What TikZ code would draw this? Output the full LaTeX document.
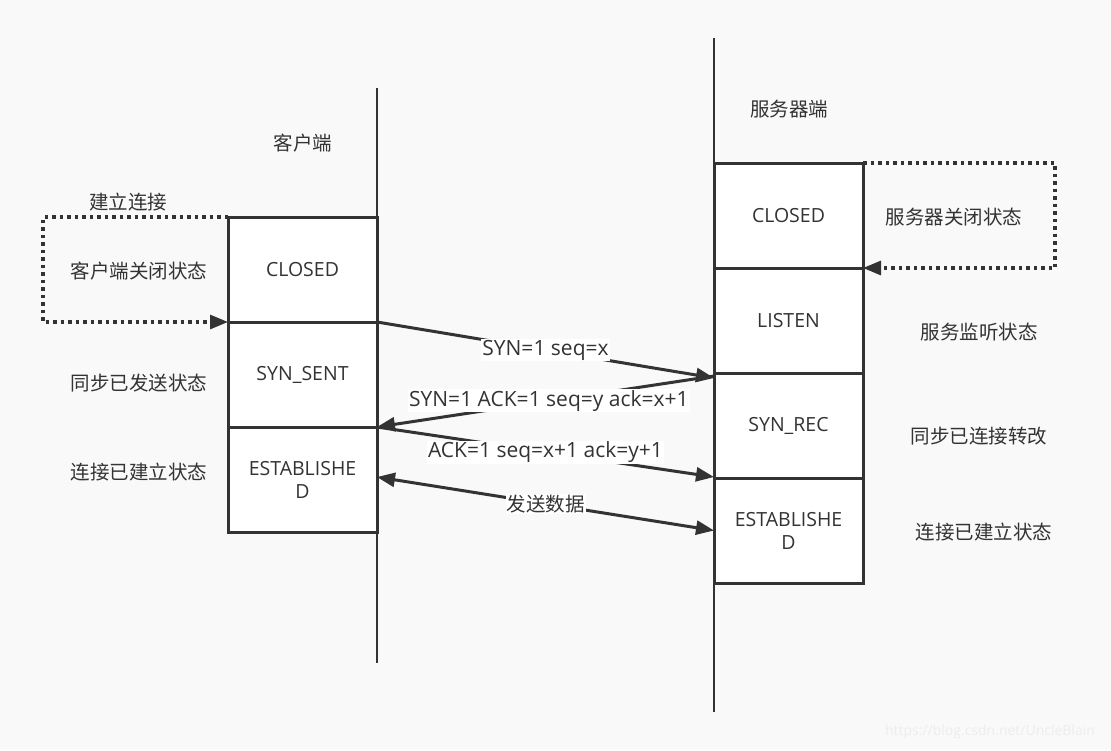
\documentclass[tikz,border=0pt]{standalone}
\usepackage{fontspec}
\setmainfont{Open Sans}
\newfontfamily\cjk{Noto Sans CJK SC}
\usetikzlibrary{positioning}
\usetikzlibrary{arrows.meta}
\usetikzlibrary{backgrounds}
\definecolor{ink}{HTML}{333333}
\definecolor{paper}{HTML}{F9F9F9}
\tikzset{state/.style={rectangle,draw=ink,fill=white,line width=3pt,inner sep=0pt,outer sep=0pt,
minimum width=149pt, minimum height=105pt, align=center, text=ink,
font=\fontsize{19.5}{23}\selectfont},
note/.style={text=ink, inner sep=0pt, font=\fontsize{19.5}{23}\selectfont\cjk},
msg/.style={text=ink, fill=white, inner sep=1pt, font=\fontsize{21}{23}\selectfont},
life/.style={draw=ink, line width=2.6pt},
loop/.style={draw=ink, line width=3.2pt, dash pattern=on 3.5pt off 4pt},
-/.style={draw=ink, line width=3pt},
>={Triangle[length=18pt,width=14pt]}}

\begin{document}
\begin{tikzpicture}[x=1pt,y=-1pt]
  \useasboundingbox [fill=paper] (0,0) rectangle (1111,750);

  \coordinate (ctop) at (377,88);
  \coordinate (cbot) at (377,663);
  \coordinate (stop) at (714,38);
  \coordinate (sbot) at (714,712);
  \draw [life] (ctop) -- (cbot);
  \draw [life] (stop) -- (sbot);

  \node (cclosed) [state] at (302.5,269.5) {CLOSED};
  \node (csent) [state, below=0pt of cclosed] {SYN\_SENT};
  \node (cest) [state, below=0pt of csent] {ESTABLISHE\\D};

  \node (sclosed) [state] at (788.5,215.5) {CLOSED};
  \node (slisten) [state, below=0pt of sclosed] {LISTEN};
  \node (srec) [state, below=0pt of slisten] {SYN\_REC};
  \node (sest) [state, below=0pt of srec] {ESTABLISHE\\D};

  \node (client) [note] at (303,143) {客户端};
  \node (server) [note] at (789,109) {服务器端};
  \node (connect) [note] at (128,202) {建立连接};
  \node (cclosedn) [note] at (139,271) {客户端关闭状态};
  \node (csentn) [note] at (139,383) {同步已发送状态};
  \node (cestn) [note] at (139,472) {连接已建立状态};
  \node (sclosedn) [note] at (954,217) {服务器关闭状态};
  \node (slistenn) [note] at (979,332) {服务监听状态};
  \node (srecn) [note] at (979,436) {同步已连接转改};
  \node (sestn) [note] at (984,532) {连接已建立状态};

  \coordinate (cl1) at (43,217);
  \coordinate (cl2) at (43,322);
  \draw [loop] (cclosed.north west) -- (cl1) -- (cl2) -- ([xshift=-16pt]cclosed.south west);
  \draw [-, ->] ([xshift=-18pt]cclosed.south west) -- (cclosed.south west);

  \coordinate (sl1) at (1055,163);
  \coordinate (sl2) at (1055,268);
  \draw [loop] (sclosed.north east) -- (sl1) -- (sl2) -- ([xshift=16pt]sclosed.south east);
  \draw [-, ->] ([xshift=18pt]sclosed.south east) -- (sclosed.south east);

  \draw [-, ->] (cclosed.south east) -- ([yshift=-5pt]slisten.south west)
    node [msg, midway] {SYN=1 seq=x};
  \draw [-, ->] ([yshift=-3pt]slisten.south west) -- (csent.south east)
    node [msg, pos=0.49] {SYN=1 ACK=1 seq=y ack=x+1};
  \draw [-, ->] (csent.south east) -- ([yshift=1pt]srec.south west)
    node [msg, pos=0.5] {ACK=1 seq=x+1 ack=y+1};
  \draw [-, <->] ([yshift=2.5pt]cest.east) -- (sest.west)
    node [msg, pos=0.5, font=\fontsize{19.5}{23}\selectfont\cjk] {发送数据};

  \node (mark) [text=black!7, font=\fontsize{14}{16}\selectfont] at (990,732) {https://blog.csdn.net/UncleBlain};
\end{tikzpicture}
\end{document}
